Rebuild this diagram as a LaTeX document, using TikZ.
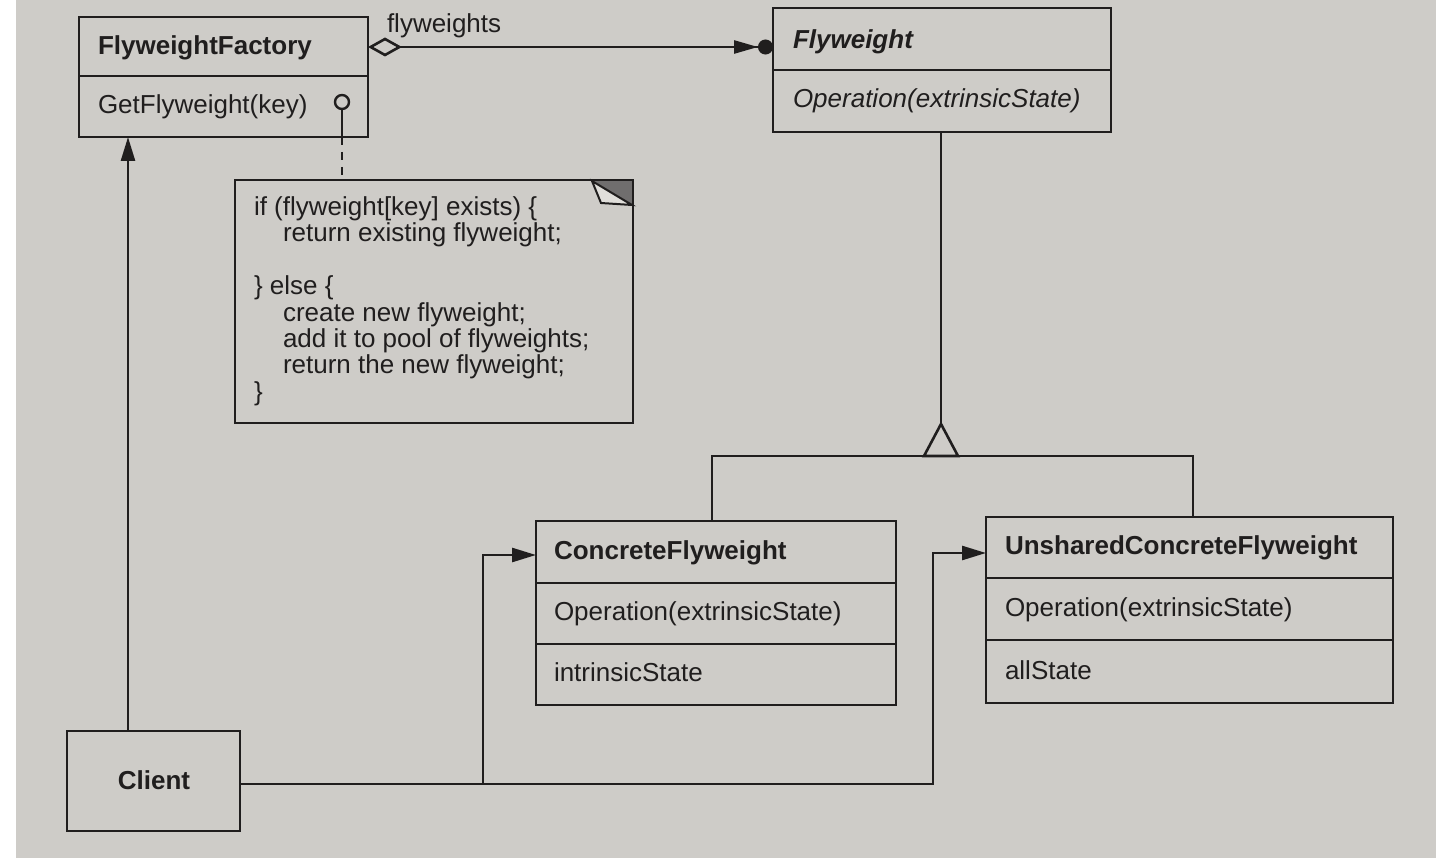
\documentclass[tikz,border=0pt]{standalone}
\usepackage{fontspec}
\setmainfont{Liberation Sans}
\usetikzlibrary{arrows.meta}
\definecolor{paper}{RGB}{206,204,200}
\definecolor{ink}{RGB}{32,30,30}
\definecolor{fold}{RGB}{112,110,110}
\definecolor{foldlight}{RGB}{224,222,218}
\begin{document}
\begin{tikzpicture}[x=1pt,y=-1pt,
  line width=2.6pt, line join=miter,
  every node/.style={font=\fontsize{26}{26.3}\selectfont, text=ink, inner sep=0pt, outer sep=0pt},
  cls/.style={draw=ink, rectangle, anchor=north west},
  lbl/.style={anchor=base west},
  conn/.style={draw=ink, line width=2.6pt},
  solidtip/.style={-{Triangle[length=24pt,width=14pt]}},
]
% page
\fill[white] (0,0) rectangle (1447,858);
\fill[paper] (16,0) rectangle (1436,858);
\useasboundingbox (0,0) rectangle (1447,858);

% FlyweightFactory
\node[cls, minimum width=289pt, minimum height=120pt] (ff) at (79,17) {};
\draw[conn] (79,76) -- (368,76);
\node[lbl] (ffname) at (98,55) {\bfseries FlyweightFactory};
\node[lbl] (ffop) at (98,114) {GetFlyweight(key)};
\node[draw=ink, circle, minimum size=14pt, line width=2.4pt] (pin) at (342,102) {};

% Flyweight
\node[cls, minimum width=338pt, minimum height=124pt] (fw) at (773,8) {};
\draw[conn] (773,70) -- (1111,70);
\node[lbl] (fwname) at (793,49) {\bfseries\itshape Flyweight};
\node[lbl] (fwop) at (793,108) {\itshape Operation(extrinsicState)};

% note with dog-eared corner
\fill[fold] (592,180) -- (633,180) -- (633,205) -- cycle;
\draw[ink, fill=foldlight, line width=2pt] (592,181) -- (601,203) -- (632,205) -- cycle;
\node[cls, minimum width=398pt, minimum height=243pt] (note) at (235,180) {};
\node[lbl] (n1) at (254,216) {if (flyweight[key] exists) \{};
\node[lbl] (n2) at (283,242) {return existing flyweight;};
\node[lbl] (n3) at (254,295) {\} else \{};
\node[lbl] (n4) at (283,321) {create new flyweight;};
\node[lbl] (n5) at (283,347) {add it to pool of flyweights;};
\node[lbl] (n6) at (283,373) {return the new flyweight;};
\node[lbl] (n7) at (254,400) {\}};

% ConcreteFlyweight
\node[cls, minimum width=360pt, minimum height=184pt] (cf) at (536,521) {};
\draw[conn] (536,583) -- (896,583);
\draw[conn] (536,644) -- (896,644);
\node[lbl] (cfname) at (554,559) {\bfseries ConcreteFlyweight};
\node[lbl] (cfop) at (554,620) {Operation(extrinsicState)};
\node[lbl] (cfst) at (554,681) {intrinsicState};

% UnsharedConcreteFlyweight
\node[cls, minimum width=407pt, minimum height=186pt] (ucf) at (986,517) {};
\draw[conn] (986,578) -- (1393,578);
\draw[conn] (986,640) -- (1393,640);
\node[lbl] (ucfname) at (1005,554) {\bfseries UnsharedConcreteFlyweight};
\node[lbl] (ucfop) at (1005,616) {Operation(extrinsicState)};
\node[lbl] (ucfst) at (1005,679) {allState};

% Client
\node[cls, minimum width=173pt, minimum height=100pt] (cl) at (67,731) {};
\node[anchor=base] (clname) at (154,789) {\bfseries Client};

% pin stem and dashed link to the note
\draw[conn] (pin.south) -- (pin.south |- ff.south);
\draw[conn, dash pattern=on 8pt off 7pt] (pin.south |- ff.south) -- (pin.south |- note.north);

% aggregation FlyweightFactory -> Flyweight
\coordinate (ay) at (0,47);
\draw[conn, {Diamond[open,length=34pt,width=19pt]}-{Triangle[length=24pt,width=13pt]Circle[length=15pt]}]
  (ff.east |- ay) -- (fw.west |- ay);
\node[lbl] (agglbl) at (387,33) {flyweights};

% generalization
\coordinate (apex) at (941,424);
\coordinate (bar) at (941,456);
\coordinate (lj) at (712,0);
\coordinate (rj) at (1193,0);
\draw[conn] (fw.south -| apex) -- (apex);
\draw[conn] (cf.north -| lj) |- (bar) -| (ucf.north -| rj);
\draw[conn, fill=paper] (apex) -- ++(-17,32) -- ++(34,0) -- cycle;

% Client -> FlyweightFactory
\coordinate (cx) at (128,0);
\draw[conn, solidtip] (cl.north -| cx) -- (ff.south -| cx);

% Client -> concrete flyweights
\coordinate (cy) at (0,784);
\coordinate (v1) at (483,0);
\coordinate (v2) at (933,0);
\coordinate (a1) at (0,555);
\coordinate (a2) at (0,553);
\draw[conn, solidtip] (cl.east |- cy) -| (v1 |- a1) -- (cf.west |- a1);
\draw[conn, solidtip] (cl.east |- cy) -| (v2 |- a2) -- (ucf.west |- a2);
\end{tikzpicture}
\end{document}
